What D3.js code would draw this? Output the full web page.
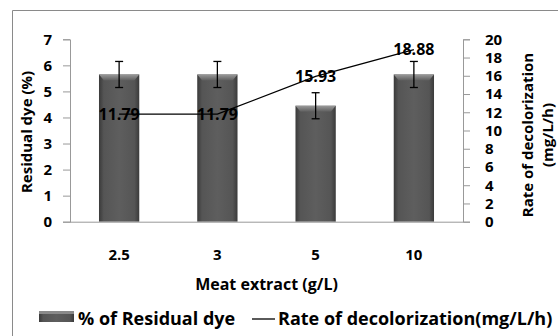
<!DOCTYPE html>
<html>
<head>
<meta charset="utf-8">
<script src="https://cdn.jsdelivr.net/npm/d3@7"></script>
<style>
  body { margin: 0; background: #fff; }
  svg text { font-family: "Open Sans", Lato, sans-serif; font-weight: bold; fill: #000; }
</style>
</head>
<body>
<svg id="chart" width="558" height="336"></svg>
<script>
// values
var categories = ["2.5", "3", "5", "10"];
var residualDye = [5.65, 5.65, 4.45, 5.65];   // % (bars, left axis)
var residualErr = [0.5, 0.5, 0.5, 0.5];
var decolRate = [11.79, 11.79, 15.93, 18.88]; // mg/L/h (line, right axis)
var leftTicks = [0, 1, 2, 3, 4, 5, 6, 7];
var rightTicks = [0, 2, 4, 6, 8, 10, 12, 14, 16, 18, 20];

var svg = d3.select("#chart");

// outer frame (only left & top edges are in view)
svg.append("line").attr("x1", 12.5).attr("x2", 12.5).attr("y1", 10.5).attr("y2", 336)
  .attr("stroke", "#8a8a8a");
svg.append("line").attr("x1", 12.5).attr("x2", 558).attr("y1", 10.5).attr("y2", 10.5)
  .attr("stroke", "#8a8a8a");

var plotL = 70, plotR = 463, plotT = 39.3, plotB = 221.7;

var x = d3.scaleBand().domain(categories).range([plotL, plotR])
  .paddingInner(0.59).paddingOuter(0.295);
var yL = d3.scaleLinear().domain([0, 7]).range([plotB, plotT]);
var yR = d3.scaleLinear().domain([0, 20]).range([plotB, plotT]);

// bar gradient
var defs = svg.append("defs");
var g1 = defs.append("linearGradient").attr("id", "barGrad");
g1.append("stop").attr("offset", "0%").attr("stop-color", "#3a3a3a");
g1.append("stop").attr("offset", "12%").attr("stop-color", "#555");
g1.append("stop").attr("offset", "50%").attr("stop-color", "#5e5e5e");
g1.append("stop").attr("offset", "88%").attr("stop-color", "#555");
g1.append("stop").attr("offset", "100%").attr("stop-color", "#3a3a3a");
var g2 = defs.append("linearGradient").attr("id", "bevelGrad")
  .attr("x1", 0).attr("x2", 0).attr("y1", 0).attr("y2", 1);
g2.append("stop").attr("offset", "0%").attr("stop-color", "#9a9a9a");
g2.append("stop").attr("offset", "100%").attr("stop-color", "#5e5e5e");

// axes
var axL = svg.append("g").attr("transform", "translate(" + plotL + ",0)")
  .call(d3.axisLeft(yL).tickValues(leftTicks).tickFormat(d3.format("d"))
    .tickSize(7).tickPadding(11));
var axR = svg.append("g").attr("transform", "translate(" + plotR + ",0)")
  .call(d3.axisRight(yR).tickValues(rightTicks).tickFormat(d3.format("d"))
    .tickSize(7).tickPadding(15));
[axL, axR].forEach(function (a) {
  a.select(".domain").attr("stroke", "#999");
  a.selectAll(".tick line").attr("stroke", "#999");
  a.selectAll(".tick text").style("font-size", "15px").attr("fill", "#000");
});

// bars
var bars = svg.append("g").selectAll("g").data(residualDye).enter().append("g");
bars.append("rect")
  .attr("x", function (d, i) { return x(categories[i]); })
  .attr("y", function (d) { return yL(d); })
  .attr("width", x.bandwidth())
  .attr("height", function (d) { return plotB - yL(d); })
  .attr("fill", "url(#barGrad)");
bars.append("path")
  .attr("d", function (d, i) {
    var x0 = x(categories[i]), w = x.bandwidth(), y0 = yL(d);
    return "M" + x0 + "," + y0 + "H" + (x0 + w) + "L" + (x0 + w - 5) + "," + (y0 + 6) +
      "H" + (x0 + 5) + "Z";
  })
  .attr("fill", "url(#bevelGrad)");

// x axis line
svg.append("line")
  .attr("x1", plotL).attr("x2", plotR)
  .attr("y1", plotB + 0.5).attr("y2", plotB + 0.5)
  .attr("stroke", "#999");

// error bars
var err = svg.append("g").attr("stroke", "#000").attr("stroke-width", 1.3);
residualDye.forEach(function (d, i) {
  var cx = x(categories[i]) + x.bandwidth() / 2;
  var y1 = yL(d + residualErr[i]), y2 = yL(d - residualErr[i]);
  err.append("line").attr("x1", cx).attr("x2", cx).attr("y1", y1).attr("y2", y2);
  err.append("line").attr("x1", cx - 4).attr("x2", cx + 4).attr("y1", y1).attr("y2", y1);
  err.append("line").attr("x1", cx - 4).attr("x2", cx + 4).attr("y1", y2).attr("y2", y2);
});

// rate line
var line = d3.line()
  .x(function (d, i) { return x(categories[i]) + x.bandwidth() / 2; })
  .y(function (d) { return yR(d); });
svg.append("path").datum(decolRate)
  .attr("d", line)
  .attr("fill", "none").attr("stroke", "#000").attr("stroke-width", 1.3);

svg.append("g").selectAll("text").data(decolRate).enter().append("text")
  .attr("x", function (d, i) { return x(categories[i]) + x.bandwidth() / 2; })
  .attr("y", function (d) { return yR(d); })
  .attr("dy", "0.36em")
  .attr("text-anchor", "middle")
  .style("font-size", "16px")
  .text(function (d) { return d.toFixed(2); });

// x tick labels
svg.append("g").selectAll("text").data(categories).enter().append("text")
  .attr("x", function (d) { return x(d) + x.bandwidth() / 2; })
  .attr("y", 255).attr("dy", "0.36em")
  .attr("text-anchor", "middle")
  .style("font-size", "15px")
  .text(function (d) { return d; });

// axis titles
svg.append("text")
  .attr("x", (plotL + plotR) / 2).attr("y", 284).attr("dy", "0.36em")
  .attr("text-anchor", "middle").style("font-size", "16px")
  .text("Meat extract (g/L)");

svg.append("text")
  .attr("transform", "translate(27,132) rotate(-90)")
  .attr("dy", "0.36em")
  .attr("text-anchor", "middle").style("font-size", "15px")
  .text("Residual dye (%)");

var rt = svg.append("text")
  .attr("transform", "translate(528,135) rotate(-90)")
  .attr("text-anchor", "middle").style("font-size", "15px");
rt.append("tspan").attr("x", 0).attr("dy", "0.36em").text("Rate of decolorization");
rt.append("tspan").attr("x", 0).attr("dy", "1.3em").text("(mg/L/h)");

// legend
var lg = svg.append("g");
lg.append("rect").attr("x", 39).attr("y", 311).attr("width", 35).attr("height", 11)
  .attr("fill", "url(#barGrad)");
lg.append("rect").attr("x", 39).attr("y", 311).attr("width", 35).attr("height", 3)
  .attr("fill", "#8a8a8a");
lg.append("text").attr("x", 78).attr("y", 319).attr("dy", "0.36em")
  .style("font-size", "18px").text("% of Residual dye");
lg.append("line").attr("x1", 252).attr("x2", 275).attr("y1", 319).attr("y2", 319)
  .attr("stroke", "#000").attr("stroke-width", 1.3);
lg.append("text").attr("x", 278).attr("y", 319).attr("dy", "0.36em")
  .style("font-size", "18px").text("Rate of decolorization(mg/L/h)");
</script>
</body>
</html>
